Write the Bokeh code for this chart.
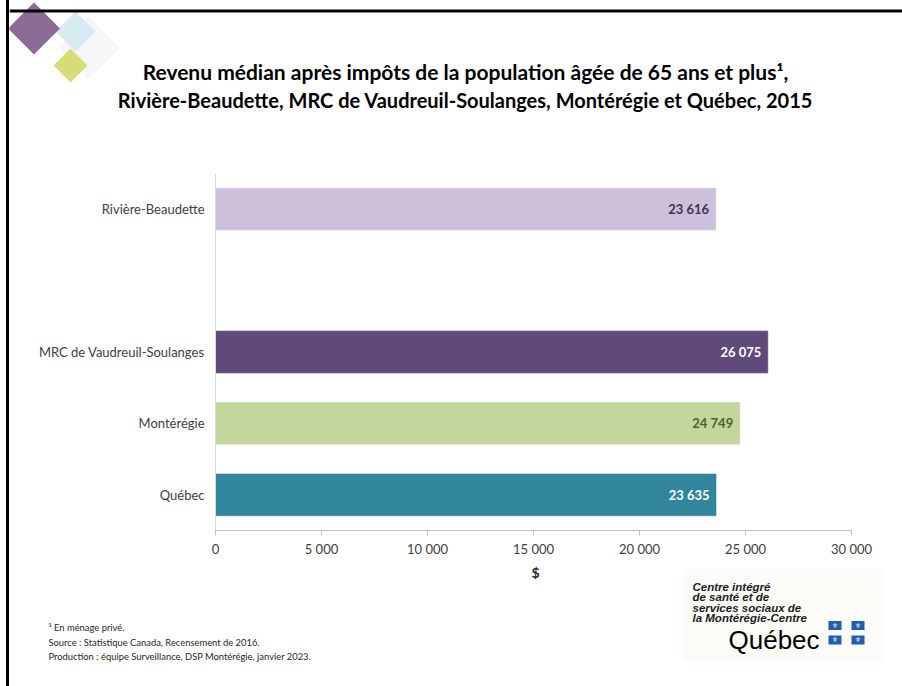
from bokeh.plotting import figure
from bokeh.layouts import column, row
from bokeh.models import ColumnDataSource, FactorRange, Range1d, FixedTicker
from bokeh.core.properties import value
from bokeh.embed import file_html
from bokeh.resources import INLINE

# ---- data ----
categories = ["Rivière-Beaudette", " ", "MRC de Vaudreuil-Soulanges", "Montérégie", "Québec"]
regions = ["Rivière-Beaudette", "MRC de Vaudreuil-Soulanges", "Montérégie", "Québec"]
incomes = [23616, 26075, 24749, 23635]
bar_colors = ["#ccc0da", "#604a7b", "#c3d69b", "#31859c"]
label_colors = ["#3f3151", "#ffffff", "#4f6228", "#ffffff"]
x_ticks = [0, 5000, 10000, 15000, 20000, 25000, 30000]
x_tick_labels = ["0", "5 000", "10 000", "15 000", "20 000", "25 000", "30 000"]
x_axis_label = "$"
title_lines = ["Revenu médian après impôts de la population âgée de 65 ans et plus¹,",
               "Rivière-Beaudette, MRC de Vaudreuil-Soulanges, Montérégie et Québec, 2015"]
notes = ["¹ En ménage privé.",
         "Source : Statistique Canada, Recensement de 2016.",
         "Production : équipe Surveillance, DSP Montérégie, janvier 2023."]
logo_lines = ["Centre intégré", "de santé et de", "services sociaux de", "la Montérégie-Centre"]
logo_word = "Québec"

FONT = "Lato"
# page layout (page pixels): content spans x 9..902, y 0..686
X0, X1 = 9, 902
W = X1 - X0
Y_HEAD, Y_CHART, Y_FOOT, Y_END = 0, 173, 565, 686


def no_align(fig):
    if "frame_align" in fig.properties():
        fig.frame_align = False


def deco_figure(y_top, y_bot):
    f = figure(width=W, height=y_bot - y_top, output_backend="svg", toolbar_location=None,
               x_range=Range1d(X0, X1), y_range=Range1d(y_bot, y_top),
               x_axis_type=None, y_axis_type=None, min_border=0)
    f.outline_line_color = None
    f.grid.visible = False
    f.background_fill_color = "white"
    f.border_fill_color = "white"
    no_align(f)
    return f


# ---------- header ----------
h = deco_figure(Y_HEAD, Y_CHART)


def diamond(fig, cx, cy, r, color):
    fig.patch([cx - r, cx, cx + r, cx], [cy, cy - r, cy, cy + r],
              fill_color=color, line_color=None)


diamond(h, 88, 47, 31, "#f6f6f8")
diamond(h, 75, 31, 20, "#d8eaf1")
diamond(h, 70, 65, 17, "#d7dc78")
diamond(h, 33.5, 28, 26, "#8a6c96")
h.quad(left=X0, right=X1, top=9, bottom=12, fill_color="black", line_color=None)
h.text(x=[465], y=[71], text=[title_lines[0]], text_align="center", text_baseline="middle",
       text_font=value(FONT), text_font_style="bold", text_font_size="21px", text_color="#000000")
h.text(x=[465], y=[99], text=[title_lines[1]], text_align="center", text_baseline="middle",
       text_font=value(FONT), text_font_style="bold", text_font_size="20px", text_color="#000000")

# ---------- chart ----------
src = ColumnDataSource(dict(
    region=regions, income=incomes, color=bar_colors, lcolor=label_colors,
    text=[f"{v:,}".replace(",", " ") for v in incomes],
))

p = figure(width=W, height=Y_FOOT - Y_CHART, output_backend="svg", toolbar_location=None,
           y_range=FactorRange(factors=list(reversed(categories)), range_padding=0),
           x_range=Range1d(0, 30000),
           min_border_left=215 - X0, min_border_right=X1 - 851, min_border_top=0, min_border_bottom=35)
p.outline_line_color = None
p.grid.grid_line_color = None
p.background_fill_color = "white"
p.border_fill_color = "white"
no_align(p)

p.hbar(y="region", right="income", height=0.6, left=0, source=src,
       fill_color="color", line_color="white", line_alpha=0.5, line_width=1)
p.text(x="income", y="region", text="text", source=src, x_offset=-7,
       text_align="right", text_baseline="middle", text_color="lcolor",
       text_font=value(FONT), text_font_size="13px", text_font_style="bold")

xa = p.xaxis[0]
xa.ticker = FixedTicker(ticks=x_ticks)
xa.major_label_overrides = {t: s for t, s in zip(x_ticks, x_tick_labels)}
xa.axis_line_color = "#bfbfbf"
xa.major_tick_line_color = "#bfbfbf"
xa.major_tick_in = 0
xa.major_tick_out = 5
xa.minor_tick_line_color = None
xa.major_label_text_font = FONT
xa.major_label_text_font_size = "13px"
xa.major_label_text_color = "#404040"
xa.major_label_standoff = 5

ya = p.yaxis[0]
ya.axis_line_color = "#d9d9d9"
ya.major_tick_line_color = None
ya.minor_tick_line_color = None
ya.major_label_text_font = FONT
ya.major_label_text_font_size = "13px"
ya.major_label_text_color = "#404040"
ya.major_label_standoff = 5

# ---------- footer ----------
f = deco_figure(Y_FOOT, Y_END)
f.text(x=[535], y=[572], text=[x_axis_label], text_align="center", text_baseline="middle",
       text_font=value(FONT), text_font_style="bold", text_font_size="14px", text_color="#262626")
f.text(x=[48] * 3, y=[627, 642, 656], text=notes, text_align="left", text_baseline="middle",
       text_font=value(FONT), text_font_size="9.4px", text_color="#262626")
# logo
f.quad(left=683, right=882, top=568, bottom=660, fill_color="#fcfbf8", line_color=None)
f.text(x=[692] * 4, y=[586, 596.5, 607, 617], text=logo_lines, text_align="left", text_baseline="middle",
       text_font=value("Liberation Sans"), text_font_style="bold italic", text_font_size="11.5px",
       text_color="#1a1a1a")
f.text(x=[728], y=[639], text=[logo_word], text_align="left", text_baseline="alphabetic",
       text_font=value("Liberation Sans"), text_font_size="26px", text_color="#000000")
fx = [834.5, 857.5, 834.5, 857.5]
fy = [625, 625, 639.5, 639.5]
f.rect(x=fx, y=fy, width=13, height=9, fill_color="#1f5fae", line_color=None)
f.text(x=fx, y=fy, text=["⚜"] * 4, text_align="center", text_baseline="middle",
       text_font=value("DejaVu Sans"), text_font_size="7px", text_color="white")

layout = column(row(h), row(p), row(f), spacing=0,
                styles={"border-left": "3px solid black", "margin-left": "6px"})
open("out.html", "w").write(file_html(layout, INLINE))
